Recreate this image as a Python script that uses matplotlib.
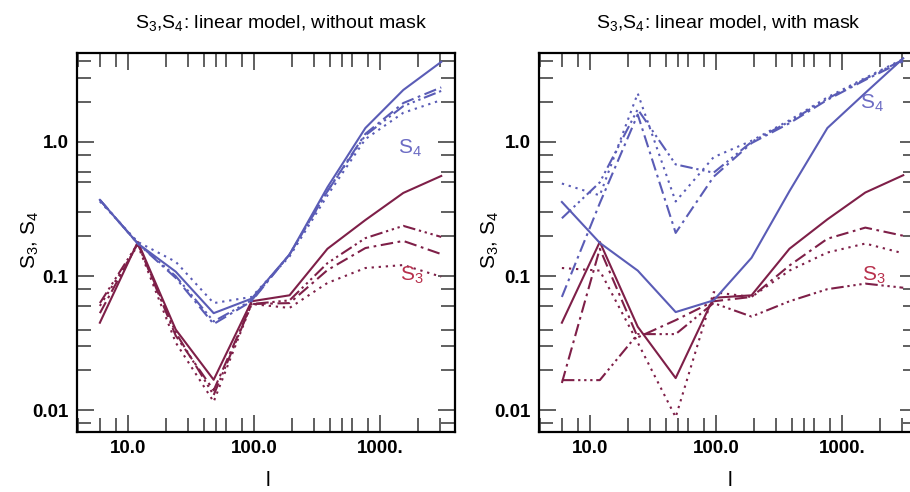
import matplotlib
matplotlib.use("Agg")
import matplotlib.pyplot as plt
from matplotlib.ticker import FixedLocator, FixedFormatter, NullFormatter

plt.rcParams['font.family'] = ['Liberation Sans', 'DejaVu Sans']

# ---------------- data ----------------
ell = [6, 12, 24, 48, 96, 192, 384, 768, 1536, 3072]

# without mask
s4_solid = [0.37, 0.175, 0.108, 0.053, 0.068, 0.145, 0.46, 1.27, 2.44, 3.95]
s4_dashdot = [0.37, 0.175, 0.097, 0.044, 0.065, 0.145, 0.43, 1.15, 1.95, 2.55]
s4_dash3dot = [0.37, 0.175, 0.100, 0.046, 0.066, 0.145, 0.43, 1.12, 1.85, 2.40]
s4_dotted = [0.36, 0.180, 0.128, 0.063, 0.070, 0.140, 0.40, 1.05, 1.65, 2.05]

s3_solid = [0.045, 0.180, 0.040, 0.0169, 0.065, 0.072, 0.160, 0.262, 0.417, 0.558]
s3_dashdot = [0.053, 0.175, 0.036, 0.0141, 0.062, 0.063, 0.111, 0.162, 0.183, 0.146]
s3_dash3dot = [0.063, 0.175, 0.038, 0.0130, 0.062, 0.066, 0.125, 0.192, 0.237, 0.196]
s3_dotted = [0.060, 0.170, 0.032, 0.0116, 0.062, 0.058, 0.089, 0.115, 0.121, 0.099]

# with mask
s4m_solid = [0.357, 0.177, 0.110, 0.054, 0.066, 0.137, 0.43, 1.27, 2.32, 4.2]
s4m_dashdot = [0.070, 0.35, 1.60, 0.21, 0.55, 0.98, 1.38, 2.06, 2.90, 4.0]
s4m_dash3dot = [0.27, 0.50, 1.75, 0.68, 0.59, 1.00, 1.42, 2.10, 2.95, 4.1]
s4m_dotted = [0.49, 0.40, 2.30, 0.36, 0.77, 1.02, 1.45, 2.15, 3.00, 4.15]

s3m_solid = [0.045, 0.180, 0.042, 0.0174, 0.069, 0.072, 0.160, 0.265, 0.420, 0.565]
s3m_dashdot = [0.016, 0.160, 0.035, 0.047, 0.065, 0.070, 0.120, 0.190, 0.230, 0.200]
s3m_dash3dot = [0.0168, 0.0168, 0.037, 0.037, 0.063, 0.050, 0.065, 0.080, 0.088, 0.082]
s3m_dotted = [0.115, 0.110, 0.032, 0.0089, 0.076, 0.070, 0.110, 0.150, 0.175, 0.148]

x_major = [10, 100, 1000]
x_major_labels = ["10.0", "100.0", "1000."]
y_major = [0.01, 0.1, 1.0]
y_major_labels = ["0.01", "0.1", "1.0"]

titles = [r"S$_\mathregular{3}$,S$_\mathregular{4}$: linear model, without mask",
          r"S$_\mathregular{3}$,S$_\mathregular{4}$: linear model, with mask"]

# ---------------- style ----------------
BLUE = "#5a5cb6"
RED = "#7e1f48"
S4_TXT = "#6c6cc4"
S3_TXT = "#b8304c"
styles = {
    "solid": "-",
    "dashdot": (0, (6, 2.2, 1.3, 2.2)),
    "dash3dot": (0, (6, 1.8, 1.1, 1.8, 1.1, 1.8, 1.1, 1.8)),
    "dotted": (0, (1.1, 2.3)),
}

W, H = 910, 492
fig = plt.figure(figsize=(W / 100, H / 100), dpi=100)

xmin, xmax = 3.95, 3950
ymin, ymax = 0.0069, 4.6

panels = [
    dict(left=77, s4=[s4_solid, s4_dashdot, s4_dash3dot, s4_dotted],
         s3=[s3_solid, s3_dashdot, s3_dash3dot, s3_dotted]),
    dict(left=539, s4=[s4m_solid, s4m_dashdot, s4m_dash3dot, s4m_dotted],
         s3=[s3m_solid, s3m_dashdot, s3m_dash3dot, s3m_dotted]),
]
keys = ["solid", "dashdot", "dash3dot", "dotted"]

x_minor = [4, 6, 8, 20, 30, 40, 50, 60, 80, 200, 300, 400, 500, 600, 800, 2000, 3000]
y_minor = [0.008, 0.02, 0.03, 0.04, 0.06, 0.08, 0.2, 0.3, 0.5, 0.6, 0.8, 2, 3, 4]

for i, p in enumerate(panels):
    ax = fig.add_axes([p["left"] / W, (H - 432) / H, 378 / W, 379 / H])
    ax.set_xscale("log")
    ax.set_yscale("log")
    ax.set_xlim(xmin, xmax)
    ax.set_ylim(ymin, ymax)
    for k, ys in zip(keys, p["s3"]):
        ax.plot(ell, ys, color=RED, lw=1.5, linestyle=styles[k])
    for k, ys in zip(keys, p["s4"]):
        ax.plot(ell, ys, color=BLUE, lw=1.5, linestyle=styles[k])

    ax.xaxis.set_major_locator(FixedLocator(x_major))
    ax.xaxis.set_major_formatter(FixedFormatter(x_major_labels))
    ax.yaxis.set_major_locator(FixedLocator(y_major))
    ax.yaxis.set_major_formatter(FixedFormatter(y_major_labels))
    ax.xaxis.set_minor_locator(FixedLocator(x_minor))
    ax.yaxis.set_minor_locator(FixedLocator(y_minor))
    ax.xaxis.set_minor_formatter(NullFormatter())
    ax.yaxis.set_minor_formatter(NullFormatter())
    ax.tick_params(which="both", direction="in", top=True, right=True,
                   color="#444444", width=1.2)
    ax.tick_params(which="major", length=12, pad=6, labelsize=13.5)
    ax.tick_params(which="minor", length=10)
    for lab in ax.get_xticklabels() + ax.get_yticklabels():
        lab.set_fontweight("bold")
    for sp in ax.spines.values():
        sp.set_linewidth(1.6)
        sp.set_color("black")

    # series labels
    xs4 = 410 if i == 0 else 872
    fig.text(xs4 / W, 1 - (148 if i == 0 else 103) / H,
             r"S$_\mathregular{4}$", color=S4_TXT, fontsize=15,
             ha="center", va="center")
    fig.text((xs4 + 2) / W, 1 - 275 / H,
             r"S$_\mathregular{3}$", color=S3_TXT, fontsize=15,
             ha="center", va="center")

    # title
    cx = 281 if i == 0 else 728
    fig.text(cx / W, 1 - 24 / H, titles[i], fontsize=14, ha="center", va="center")
    # y label
    yl_x = 30 if i == 0 else 490
    fig.text(yl_x / W, 1 - 240 / H,
             r"S$_\mathregular{3}$, S$_\mathregular{4}$",
             fontsize=15, rotation=90, ha="center", va="center")
    # x label
    xl_x = 268 if i == 0 else 730
    fig.text(xl_x / W, 2 / H, "l", fontsize=15, ha="center", va="bottom")

fig.savefig("out.png", dpi=100)
